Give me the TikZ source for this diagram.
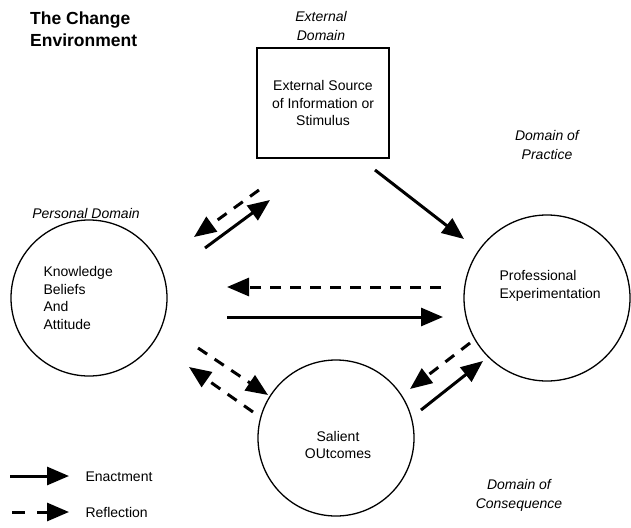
\documentclass[tikz,border=0pt]{standalone}
\usepackage{fontspec}
\setmainfont{Liberation Sans}
\usetikzlibrary{arrows.meta}
\begin{document}
\begin{tikzpicture}[x=1pt,y=-1pt,
  every node/.style={font=\fontsize{14}{17.5}\selectfont},
  lab/.style={font=\fontsize{14}{19}\selectfont\itshape, align=center},
  ring/.style={draw, circle, line width=1.3pt, inner sep=0pt},
  enact/.style={line width=3pt, -{Triangle[length=22pt,width=18pt]}},
  reflect/.style={enact, dash pattern=on 11pt off 9pt}
]
\useasboundingbox (0,0) rectangle (631,527);
% title
\node[font=\fontsize{17.5}{22}\selectfont\bfseries, align=left, anchor=north west, inner sep=0pt] (title) at (30,12) {The Change\\Environment};
% box
\node[draw, line width=1.3pt, minimum width=132pt, minimum height=110pt, align=center] (box) at (323,103) {External Source\\of Information or\\Stimulus};
\node[lab] (extlab) at (321,26) {External\\Domain};
% circles
\node[ring, minimum size=156pt] (kb) at (89,298) {};
\node[align=left, anchor=west] (kbtext) at (40,298) {Knowledge\\Beliefs\\And\\Attitude};
\node[lab] (perslab) at (86,213) {Personal Domain};
\node[ring, minimum size=166pt] (pe) at (547,298) {};
\node[align=left, anchor=west] (petext) at (496,286) {Professional\\Experimentation};
\node[ring, minimum size=156pt] (so) at (336,438) {};
\node[align=center] (sotext) at (338,445) {Salient\\OUtcomes};
\node[lab] (praclab) at (547,145) {Domain of\\Practice};
\node[lab] (conslab) at (519,495) {Domain of\\Consequence};
% arrow endpoints
\coordinate (a1s) at (259,190); \coordinate (a1e) at (194,237);
\coordinate (a2s) at (205,248); \coordinate (a2e) at (270,200);
\coordinate (a3s) at (375,170); \coordinate (a3e) at (464,239);
\coordinate (a4s) at (441,287); \coordinate (a4e) at (227,287);
\coordinate (a5s) at (227,317); \coordinate (a5e) at (443,317);
\coordinate (a6s) at (198,348); \coordinate (a6e) at (268,395);
\coordinate (a7s) at (253,412); \coordinate (a7e) at (189,367);
\coordinate (a8s) at (470,343); \coordinate (a8e) at (410,389);
\coordinate (a9s) at (421,410); \coordinate (a9e) at (483,361);
\draw[reflect] (a1s) -- (a1e);
\draw[enact] (a2s) -- (a2e);
\draw[enact] (a3s) -- (a3e);
\draw[reflect] (a4s) -- (a4e);
\draw[enact] (a5s) -- (a5e);
\draw[reflect] (a6s) -- (a6e);
\draw[reflect] (a7s) -- (a7e);
\draw[reflect] (a8s) -- (a8e);
\draw[enact] (a9s) -- (a9e);
% legend
\coordinate (l1s) at (10,476); \coordinate (l1e) at (69,476);
\coordinate (l2s) at (12,512); \coordinate (l2e) at (69,512);
\draw[enact] (l1s) -- (l1e);
\draw[reflect, dash pattern=on 13pt off 12pt] (l2s) -- (l2e);
\node[anchor=west] (enlab) at (82,477) {Enactment};
\node[anchor=west] (relab) at (82,512) {Reflection};
\end{tikzpicture}
\end{document}
